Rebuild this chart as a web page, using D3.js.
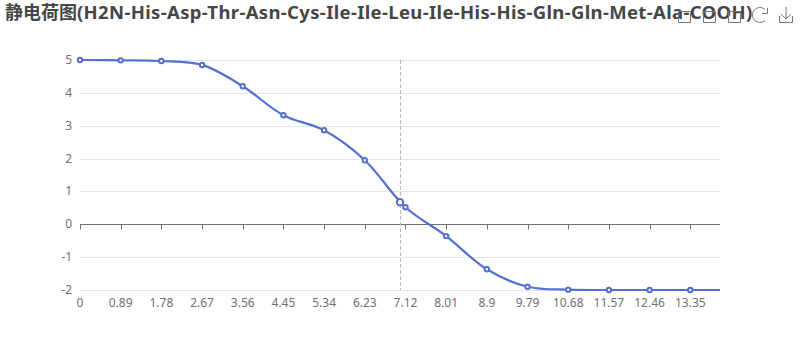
<!DOCTYPE html>
<html>
<head>
<meta charset="utf-8">
<script src="https://cdn.jsdelivr.net/npm/d3@7"></script>
<style>
    html, body { margin: 0; padding: 0; background: #fff; }
    svg { display: block; }
    text { font-family: "Noto Sans", "Noto Sans CJK SC", sans-serif; }
</style>
</head>
<body>
<div id="chart"></div>
<script>
const titleCjk = '静电荷图';
const titleSeq = '(H2N-His-Asp-Thr-Asn-Cys-Ile-Ile-Leu-Ile-His-His-Gln-Gln-Met-Ala-COOH)';
const phValues = [0, 0.89, 1.78, 2.67, 3.56, 4.45, 5.34, 6.23, 7.12, 8.01, 8.9, 9.79, 10.68, 11.57, 12.46, 13.35];
const chargeValues = [5, 4.99, 4.97, 4.85, 4.2, 3.32, 2.86, 1.95, 0.52, -0.36, -1.37, -1.9, -1.99, -2, -2, -2];
const lastPh = 14;
const lastCharge = -2;
const pointerPh = 7;
const pointerCharge = 0.67;
const yTicks = [-2, -1, 0, 1, 2, 3, 4, 5];
const boxIcons = [678, 703, 728];

const width = 800, height = 360;
const svg = d3.select('#chart').append('svg').attr('width', width).attr('height', height);

const x = d3.scaleLinear().domain([0, 14]).range([80, 720]);
const y = d3.scaleLinear().domain([-2, 5]).range([290, 60]);

const title = svg.append('text')
    .attr('x', 5).attr('y', 19)
    .attr('font-weight', 700)
    .attr('fill', '#464646');
title.append('tspan').attr('font-size', 18).text(titleCjk);
title.append('tspan').attr('font-size', 18.5).attr('letter-spacing', 0.35).text(titleSeq);

// toolbox, drawn over the title like the original
const tools = svg.append('g')
    .attr('fill', 'none').attr('stroke', '#777').attr('stroke-width', 1);

tools.selectAll('path.box')
    .data(boxIcons)
    .join('path')
    .attr('class', 'box')
    .attr('d', d => `M${d + 0.5},22.5V11.5H${d + 12.5}V22.5H${d + 0.5}`);

tools.append('path')
    .attr('d', 'M765,9.5A7.5,7.5 0 1 0 765,20.5M767.5,8V13.5H762');
tools.append('path')
    .attr('d', 'M786,7V19M781,14L786,19L791,14M779.5,16V22.5H792.5V16');

// grid
svg.append('g').selectAll('line')
    .data(yTicks)
    .join('line')
    .attr('x1', x(0)).attr('x2', x(14))
    .attr('y1', d => Math.round(y(d)) + 0.5).attr('y2', d => Math.round(y(d)) + 0.5)
    .attr('stroke', '#e0e6f1');

// y labels
svg.append('g').selectAll('text')
    .data(yTicks)
    .join('text')
    .attr('x', 72).attr('y', d => y(d) + 4)
    .attr('text-anchor', 'end')
    .attr('font-size', 12).attr('fill', '#6e7079')
    .text(d => d);

// x axis sits on zero
const axisY = Math.round(y(0)) + 0.5;
svg.append('line')
    .attr('x1', x(0)).attr('x2', x(14))
    .attr('y1', axisY).attr('y2', axisY)
    .attr('stroke', '#6e7079');

svg.append('g').selectAll('line')
    .data(phValues)
    .join('line')
    .attr('x1', d => Math.round(x(d)) + 0.5).attr('x2', d => Math.round(x(d)) + 0.5)
    .attr('y1', axisY).attr('y2', axisY + 5)
    .attr('stroke', '#6e7079');

svg.append('g').selectAll('text')
    .data(phValues)
    .join('text')
    .attr('x', d => x(d)).attr('y', 307)
    .attr('text-anchor', 'middle')
    .attr('font-size', 12).attr('fill', '#6e7079')
    .text(d => d);

// axis pointer
svg.append('line')
    .attr('x1', Math.floor(x(pointerPh)) + 0.5).attr('x2', Math.floor(x(pointerPh)) + 0.5)
    .attr('y1', y(5)).attr('y2', y(-2))
    .attr('stroke', '#b9b8ce').attr('stroke-dasharray', '4,2');

// line
const linePoints = phValues.map((d, i) => [d, chargeValues[i]]);
linePoints.push([lastPh, lastCharge]);
const line = d3.line()
    .x(d => x(d[0])).y(d => y(d[1]))
    .curve(d3.curveCatmullRom.alpha(0.5));

svg.append('path')
    .attr('d', line(linePoints))
    .attr('fill', 'none')
    .attr('stroke', '#5470d0').attr('stroke-width', 2.2);

svg.append('g').selectAll('circle')
    .data(phValues)
    .join('circle')
    .attr('cx', d => x(d))
    .attr('cy', (d, i) => y(chargeValues[i]))
    .attr('r', 2.2)
    .attr('fill', '#fff')
    .attr('stroke', '#5470c6').attr('stroke-width', 2);

svg.append('circle')
    .attr('cx', x(pointerPh)).attr('cy', y(pointerCharge))
    .attr('r', 3.2)
    .attr('fill', '#fff')
    .attr('stroke', '#5470c6').attr('stroke-width', 2);
</script>
</body>
</html>
